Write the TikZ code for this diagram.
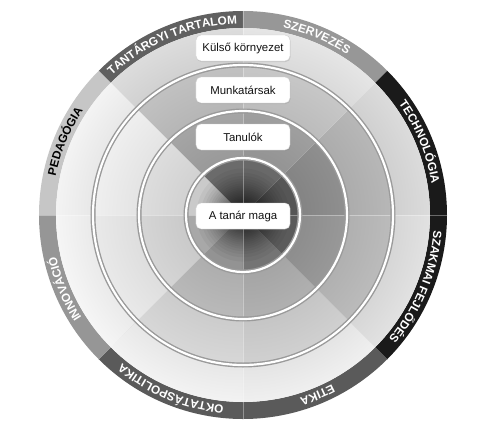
\documentclass[tikz,border=0pt]{standalone}
\usepackage{fontspec}
\setmainfont{Liberation Sans}
\usetikzlibrary{decorations.text,shadows}
% ring colours: rc<ring><sector>, sector k spans 45k..45k+45 degrees
\definecolor{rc30}{HTML}{DCDCDC}\definecolor{rc31}{HTML}{E6E6E6}
\definecolor{rc32}{HTML}{DDDDDD}\definecolor{rc33}{HTML}{F4F4F4}
\definecolor{rc34}{HTML}{F6F6F6}\definecolor{rc35}{HTML}{F3F3F3}
\definecolor{rc36}{HTML}{F0F0F0}\definecolor{rc37}{HTML}{E2E2E2}
\definecolor{rc20}{HTML}{B8B8B8}\definecolor{rc21}{HTML}{C8C8C8}
\definecolor{rc22}{HTML}{C2C2C2}\definecolor{rc23}{HTML}{F0F0F0}
\definecolor{rc24}{HTML}{EAEAEA}\definecolor{rc25}{HTML}{D8D8D8}
\definecolor{rc26}{HTML}{D1D1D1}\definecolor{rc27}{HTML}{BCBCBC}
\definecolor{rc10}{HTML}{909090}\definecolor{rc11}{HTML}{A0A0A0}
\definecolor{rc12}{HTML}{A6A6A6}\definecolor{rc13}{HTML}{DEDEDE}
\definecolor{rc14}{HTML}{D6D6D6}\definecolor{rc15}{HTML}{BABABA}
\definecolor{rc16}{HTML}{B1B1B1}\definecolor{rc17}{HTML}{999999}
\definecolor{rc00}{HTML}{5A5A5A}\definecolor{rc01}{HTML}{6E6E6E}
\definecolor{rc02}{HTML}{707070}\definecolor{rc03}{HTML}{D4D4D4}
\definecolor{rc04}{HTML}{B0B0B0}\definecolor{rc05}{HTML}{9A9A9A}
\definecolor{rc06}{HTML}{7A7A7A}\definecolor{rc07}{HTML}{606060}
% band colours
\definecolor{bandA}{HTML}{606060}
\definecolor{bandB}{HTML}{979797}
\definecolor{bandC}{HTML}{1A1A1A}
\definecolor{bandD}{HTML}{5A5A5A}
\definecolor{bandE}{HTML}{969696}
\definecolor{bandF}{HTML}{C6C6C6}
\definecolor{sepgray}{HTML}{9A9A9A}
\definecolor{boxline}{HTML}{CFCFCF}
\definecolor{txtdark}{HTML}{111111}
\begin{document}
\begin{tikzpicture}[x=1pt,y=1pt,
  lbl/.style={draw=boxline, fill=white, rounded corners=5pt,
    minimum width=94pt, minimum height=26pt, inner sep=0pt,
    text=txtdark, font=\fontsize{11.4}{13}\selectfont,
    drop shadow={opacity=0.25, shadow xshift=0.6pt, shadow yshift=-1pt}},
  sepline/.style={draw=sepgray, line width=5pt},
  sepinner/.style={draw=white, line width=2.2pt},
  axisline/.style={draw=white, opacity=0.35, line width=0.5pt},
  bandtext/.style={decorate, decoration={text along path, text align=center,
    text={#1}}}
]
\useasboundingbox (-243,-217) rectangle (247,215);

% outer band segments
\foreach \a/\c in {90/bandA,45/bandB,0/bandC,-45/bandC,-90/bandD,-135/bandD,180/bandE,135/bandF}{
  \pgfmathsetmacro\b{\a+45}
  \fill[fill=\c] (\a:187) arc[start angle=\a, end angle=\b, radius=187]
    -- (\b:204) arc[start angle=\b, end angle=\a, radius=204] -- cycle;
}

% inner ring sectors
\foreach \ri/\ro/\rn in {0.01/57/0, 57/104/1, 104/150/2, 150/187/3}{
  \foreach \s in {0,...,7}{
    \pgfmathsetmacro\aa{45*\s}
    \pgfmathsetmacro\ab{45*\s+45}
    \fill[fill=rc\rn\s] (\aa:\ri) arc[start angle=\aa, end angle=\ab, radius=\ri]
      -- (\ab:\ro) arc[start angle=\ab, end angle=\aa, radius=\ro] -- cycle;
  }
}

% soft inward darkening of the three outer rings
\foreach \ri/\ro in {57/104, 104/150, 150/187}{
  \foreach \k in {1,...,12}{
    \pgfmathsetmacro\rk{\ri+(\ro-\ri)*\k/12}
    \fill[black, opacity=0.005, even odd rule] (0,0) circle (\rk) (0,0) circle (\ri);
  }
}

% radial darkening of the centre disc
\foreach \j in {0,...,29}{
  \pgfmathsetmacro\rr{57*(1-sqrt(\j/30))}
  \fill[black, opacity=0.045] (0,0) circle (\rr);
}

% faint axis lines
\draw[axisline] (0,-204) -- (0,204);
\draw[axisline] (-204,0) -- (204,0);

% ring separators
\foreach \r in {57,104,150}{
  \draw[sepline] (0,0) circle (\r);
  \draw[sepinner] (0,0) circle (\r);
}

% band labels (clockwise, tops outward)
\path[bandtext={|\bfseries\fontsize{11.8}{12}\selectfont\color{white}|TANTÁRGYI TARTALOM}]
  (134.5:191.3) arc[start angle=134.5, end angle=90.5, radius=191.3];
\path[bandtext={|\bfseries\fontsize{11.8}{12}\selectfont\color{white}|SZERVEZÉS}]
  (89:191.3) arc[start angle=89, end angle=46, radius=191.3];
\path[bandtext={|\bfseries\fontsize{11.8}{12}\selectfont\color{white}|TECHNOLÓGIA}]
  (44:191.3) arc[start angle=44, end angle=1, radius=191.3];
\path[bandtext={|\bfseries\fontsize{11.8}{12}\selectfont\color{white}|SZAKMAI FEJLŐDÉS}]
  (-0.5:191.3) arc[start angle=-0.5, end angle=-44.5, radius=191.3];
\path[bandtext={|\bfseries\fontsize{11.8}{12}\selectfont\color{white}|ETIKA}]
  (-46:191.3) arc[start angle=-46, end angle=-89, radius=191.3];
\path[bandtext={|\bfseries\fontsize{11.8}{12}\selectfont\color{white}|OKTATÁSPOLITIKA}]
  (-91:191.3) arc[start angle=-91, end angle=-134, radius=191.3];
\path[bandtext={|\bfseries\fontsize{11.8}{12}\selectfont\color{white}|INNOVÁCIÓ}]
  (-136:191.3) arc[start angle=-136, end angle=-179, radius=191.3];
\path[bandtext={|\bfseries\fontsize{11.8}{12}\selectfont\color{black}|PEDAGÓGIA}]
  (179:191.3) arc[start angle=179, end angle=136, radius=191.3];

% label boxes
\node[lbl] (kulso) at (0,167) {Külső környezet};
\node[lbl] (munka) at (0,125) {Munkatársak};
\node[lbl] (tanulo) at (0,78) {Tanulók};
\node[lbl] (tanar) at (0,-1) {A tanár maga};
\end{tikzpicture}
\end{document}
